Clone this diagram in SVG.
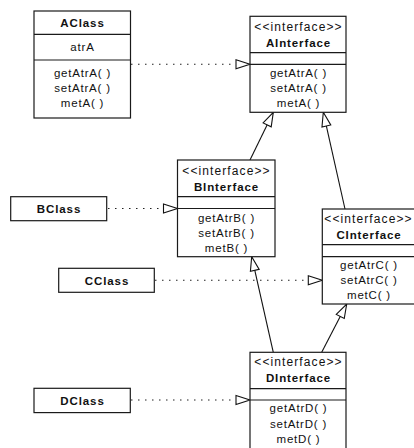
<svg xmlns="http://www.w3.org/2000/svg" width="414" height="448" viewBox="0 0 414 448">
<defs>
<style>
.box{fill:#fff;stroke:#1a1a1a;stroke-width:1.2}
.div{stroke:#1a1a1a;stroke-width:1.2}
.t{font-family:"Liberation Sans",Arial,sans-serif;font-size:11.5px;fill:#111;text-anchor:middle;letter-spacing:0.8px}
.b{font-weight:bold;letter-spacing:0.9px}
.st{font-size:12px;letter-spacing:1.1px}
.dot{stroke:#222;stroke-width:1.1;stroke-dasharray:1.5 5.5;fill:none}
.gen{stroke:#111;stroke-width:1.1;fill:none}
</style>
<marker id="tri" markerUnits="userSpaceOnUse" markerWidth="16" markerHeight="12" refX="15" refY="5" orient="auto" overflow="visible">
<path d="M1,0.5 L15,5 L1,9.5 Z" fill="#fff" stroke="#111" stroke-width="1.1"/>
</marker>
</defs>
<g id="connectors">
<line class="dot" x1="131" y1="64.3" x2="250" y2="64.3" marker-end="url(#tri)"/>
<line class="dot" x1="108" y1="208.5" x2="177.5" y2="208.5" marker-end="url(#tri)"/>
<line class="dot" x1="155" y1="280.3" x2="322.3" y2="280.3" marker-end="url(#tri)"/>
<line class="dot" x1="131" y1="400" x2="250" y2="400" marker-end="url(#tri)"/>
<line class="gen" x1="250" y1="160" x2="273.3" y2="112.3" marker-end="url(#tri)"/>
<line class="gen" x1="345" y1="209" x2="323.3" y2="112.3" marker-end="url(#tri)"/>
<line class="gen" x1="273.3" y1="352.3" x2="251.7" y2="256.7" marker-end="url(#tri)"/>
<line class="gen" x1="321.7" y1="352.3" x2="346.7" y2="304" marker-end="url(#tri)"/>
</g>
<g id="AClass">
<rect class="box" x="34" y="11" width="96.5" height="107"/>
<line class="div" x1="34" y1="34.3" x2="130.5" y2="34.3"/>
<line class="div" x1="34" y1="60" x2="130.5" y2="60"/>
<text class="t b" x="82.5" y="27">AClass</text>
<text class="t" x="82.5" y="51">atrA</text>
<text class="t" x="82.5" y="76.5">getAtrA( )</text>
<text class="t" x="82.5" y="91.5">setAtrA( )</text>
<text class="t" x="82.5" y="106.5">metA( )</text>
</g>
<g id="AInterface">
<rect class="box" x="250" y="16.3" width="96" height="96"/>
<line class="div" x1="250" y1="52.7" x2="346" y2="52.7"/>
<line class="div" x1="250" y1="64.3" x2="346" y2="64.3"/>
<text class="t st" x="298.5" y="30.7">&lt;&lt;interface&gt;&gt;</text>
<text class="t b" x="298.5" y="46.7">AInterface</text>
<text class="t" x="298.5" y="76.7">getAtrA( )</text>
<text class="t" x="298.5" y="91.7">setAtrA( )</text>
<text class="t" x="298.5" y="107">metA( )</text>
</g>
<g id="BClass">
<rect class="box" x="10.7" y="196.7" width="96" height="24"/>
<text class="t b" x="59" y="213.3">BClass</text>
</g>
<g id="BInterface">
<rect class="box" x="177.5" y="160" width="97.5" height="96.7"/>
<line class="div" x1="177.5" y1="196.7" x2="275" y2="196.7"/>
<line class="div" x1="177.5" y1="208.5" x2="275" y2="208.5"/>
<text class="t st" x="226.5" y="175">&lt;&lt;interface&gt;&gt;</text>
<text class="t b" x="226.5" y="190.5">BInterface</text>
<text class="t" x="226.5" y="221.7">getAtrB( )</text>
<text class="t" x="226.5" y="236.7">setAtrB( )</text>
<text class="t" x="226.5" y="251.7">metB( )</text>
</g>
<g id="CClass">
<rect class="box" x="58.7" y="268.3" width="95.6" height="24"/>
<text class="t b" x="107" y="285">CClass</text>
</g>
<g id="CInterface">
<rect class="box" x="322.3" y="209" width="93" height="95"/>
<line class="div" x1="322.3" y1="244.7" x2="415" y2="244.7"/>
<line class="div" x1="322.3" y1="256.7" x2="415" y2="256.7"/>
<text class="t st" x="368.5" y="223.3">&lt;&lt;interface&gt;&gt;</text>
<text class="t b" x="369" y="238.5">CInterface</text>
<text class="t" x="369" y="268.5">getAtrC( )</text>
<text class="t" x="369" y="283.5">setAtrC( )</text>
<text class="t" x="369" y="299">metC( )</text>
</g>
<g id="DClass">
<rect class="box" x="34" y="388.3" width="96.3" height="24.3"/>
<text class="t b" x="82.5" y="404.5">DClass</text>
</g>
<g id="DInterface">
<rect class="box" x="250" y="352.3" width="96" height="100"/>
<line class="div" x1="250" y1="388.7" x2="346" y2="388.7"/>
<line class="div" x1="250" y1="400" x2="346" y2="400"/>
<text class="t st" x="298.5" y="366">&lt;&lt;interface&gt;&gt;</text>
<text class="t b" x="298.5" y="381.7">DInterface</text>
<text class="t" x="298.5" y="412">getAtrD( )</text>
<text class="t" x="298.5" y="427.5">setAtrD( )</text>
<text class="t" x="298.5" y="442.5">metD( )</text>
</g>
</svg>
